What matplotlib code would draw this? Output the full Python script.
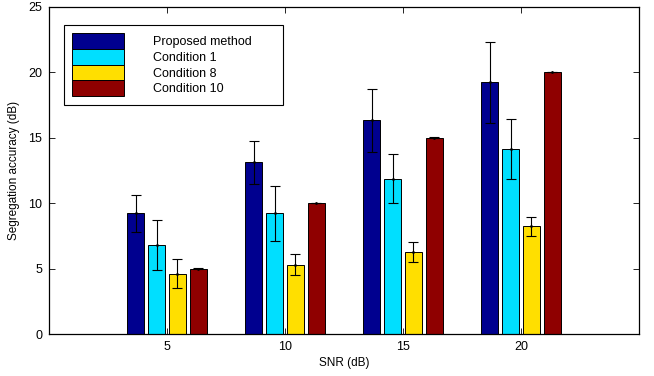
import matplotlib
matplotlib.use("Agg")
import matplotlib.pyplot as plt
from matplotlib.legend_handler import HandlerPatch
from matplotlib.patches import Rectangle
import numpy as np

plt.rcParams['font.family'] = ['Liberation Sans', 'DejaVu Sans']

snr = [5, 10, 15, 20]
labels = ["Proposed method", "Condition 1", "Condition 8", "Condition 10"]
colors = ["#00008F", "#00DFFF", "#FFDF00", "#8F0000"]

proposed = [9.2, 13.1, 16.3, 19.2]
cond1 = [6.8, 9.2, 11.85, 14.15]
cond8 = [4.6, 5.27, 6.27, 8.22]
cond10 = [5.0, 10.0, 15.0, 20.0]

proposed_err = [1.4, 1.62, 2.4, 3.08]
cond1_err = [1.92, 2.1, 1.88, 2.3]
cond8_err = [1.1, 0.8, 0.74, 0.74]
cond10_err = [0.02, 0.02, 0.02, 0.02]

means = [proposed, cond1, cond8, cond10]
errs = [proposed_err, cond1_err, cond8_err, cond10_err]

fig = plt.figure(figsize=(6.54, 3.76), dpi=100)
ax = fig.add_axes([0.0749, 0.1117, 0.9021, 0.871])

x = np.array(snr, dtype=float)
step = 0.885
width = 0.72
for i in range(4):
    xi = x + (i - 1.5) * step
    ax.bar(xi, means[i], width, color=colors[i], edgecolor='black',
           linewidth=0.7, label=labels[i], zorder=2)
    ax.errorbar(xi, means[i], yerr=errs[i], fmt='.', color='black',
                markersize=2, elinewidth=0.8, capsize=3.5, capthick=0.8,
                zorder=3)

ax.set_xlim(0, 25)
ax.set_ylim(0, 25)
ax.set_xticks(snr)
ax.set_yticks([0, 5, 10, 15, 20, 25])
ax.tick_params(direction='in', top=True, right=True, length=4,
               width=0.6, labelsize=9, pad=5)
for s in ax.spines.values():
    s.set_linewidth(0.9)

ax.set_xlabel("SNR (dB)", fontsize=8.5, labelpad=3)
ax.set_ylabel("Segregation accuracy (dB)", fontsize=8.5, labelpad=6)

# shift legend patches right a little (matlab style legend)
leg = ax.legend(loc='upper left', bbox_to_anchor=(0.025, 0.0, 0.371, 0.945),
                mode='expand', borderaxespad=0, fancybox=False, fontsize=9,
                handlelength=4.15, handleheight=1.55, handletextpad=2.3,
                labelspacing=0.0, borderpad=0.7, framealpha=1,
                handler_map={Rectangle: HandlerPatch(xpad=0.3)})
leg.get_frame().set_edgecolor('black')
leg.get_frame().set_linewidth(0.8)

fig.savefig("out.png", dpi=100)
